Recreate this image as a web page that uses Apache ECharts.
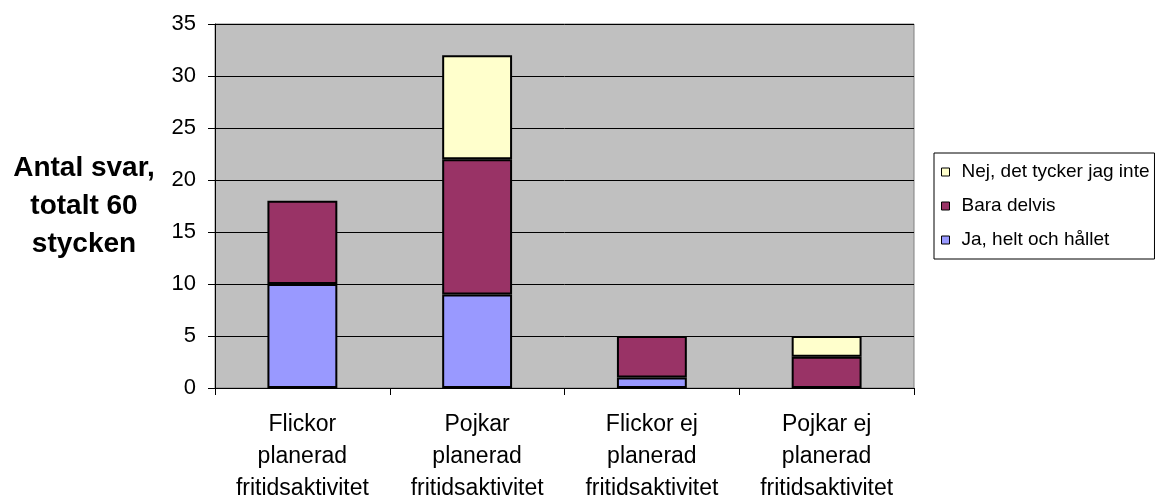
<!DOCTYPE html>
<html>
<head>
<meta charset="utf-8">
<script src="https://cdn.jsdelivr.net/npm/echarts@6/dist/echarts.min.js"></script>
<style>
  html, body { margin: 0; padding: 0; background: #ffffff; }
  #chart { width: 1167px; height: 497px; }
</style>
</head>
<body>
<div id="chart"></div>
<script>
// Survey answers per group
const categories = [
  'Flickor\nplanerad\nfritidsaktivitet',
  'Pojkar\nplanerad\nfritidsaktivitet',
  'Flickor ej\nplanerad\nfritidsaktivitet',
  'Pojkar ej\nplanerad\nfritidsaktivitet'
];
const jaHelt = [10, 9, 1, 0];
const baraDelvis = [8, 13, 4, 3];
const nejInte = [0, 10, 0, 2];
const seriesNames = ['Ja, helt och hållet', 'Bara delvis', 'Nej, det tycker jag inte'];
const seriesColors = ['#9999FF', '#993366', '#FFFFCC'];

const FONT = '"Liberation Sans", Arial, sans-serif';

// zero-height segments are left out so no stray outline is drawn
const clean = arr => arr.map(v => (v === 0 ? null : v));

const chart = echarts.init(document.getElementById('chart'), null, { renderer: 'canvas' });

const makeSeries = (name, data, color) => ({
  name: name,
  type: 'bar',
  stack: 'svar',
  barWidth: '40%',
  data: clean(data),
  itemStyle: { color: color, borderColor: '#000000', borderWidth: 2 },
  emphasis: { disabled: true }
});

chart.setOption({
  animation: false,
  textStyle: { fontFamily: FONT },
  grid: {
    left: 215, right: 253, top: 24, bottom: 109,
    outerBoundsMode: 'none',
    containLabel: false,
    show: true, backgroundColor: '#C0C0C0', borderColor: '#808080', borderWidth: 1
  },
  legend: {
    orient: 'vertical',
    left: 934, top: 153,
    padding: [9, 5, 9, 7],
    data: [seriesNames[2], seriesNames[1], seriesNames[0]],
    itemWidth: 8, itemHeight: 8, itemGap: 14,
    icon: 'rect',
    borderColor: '#000000', borderWidth: 1,
    itemStyle: { borderColor: '#000000', borderWidth: 1 },
    textStyle: { fontFamily: FONT, fontSize: 19, lineHeight: 20, color: '#000000', padding: [0, 0, 0, 7] },
    selectedMode: false
  },
  xAxis: {
    type: 'category',
    data: categories,
    axisLine: { lineStyle: { color: '#000000', width: 1 } },
    axisTick: { show: true, length: 7, alignWithLabel: false, lineStyle: { color: '#000000' } },
    axisLabel: { color: '#000000', fontSize: 23, fontFamily: FONT, lineHeight: 32, margin: 21, interval: 0 }
  },
  yAxis: {
    type: 'value',
    min: 0, max: 35, interval: 5,
    name: 'Antal svar,\ntotalt 60\nstycken',
    nameLocation: 'middle',
    nameRotate: 0,
    nameGap: 131,
    nameTextStyle: { fontFamily: FONT, fontSize: 28, fontWeight: 'bold', color: '#000000', lineHeight: 38, align: 'center' },
    axisLine: { show: true, lineStyle: { color: '#000000', width: 1 } },
    axisTick: { show: true, length: 7, lineStyle: { color: '#000000' } },
    axisLabel: { color: '#000000', fontSize: 22, fontFamily: FONT, margin: 19 },
    splitLine: { show: true, lineStyle: { color: '#000000', width: 1 } }
  },
  series: [
    makeSeries(seriesNames[0], jaHelt, seriesColors[0]),
    makeSeries(seriesNames[1], baraDelvis, seriesColors[1]),
    makeSeries(seriesNames[2], nejInte, seriesColors[2])
  ]
});
</script>
</body>
</html>
